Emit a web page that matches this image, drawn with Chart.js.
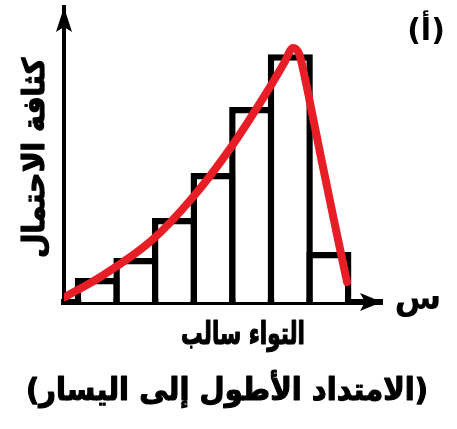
<!DOCTYPE html>
<html>
<head>
<meta charset="utf-8">
<script src="https://cdn.jsdelivr.net/npm/chart.js@4"></script>
<style>
  html, body { margin: 0; padding: 0; background: #fff; }
  #wrap { width: 457px; height: 429px; }
</style>
</head>
<body>
<div id="wrap"><canvas id="skewChart" width="457" height="429"></canvas></div>
<script>
// histogram bins (centres) and heights
const binCenters = [0.5, 1.5, 2.5, 3.5, 4.5, 5.5, 6.5];
const binHeights = [2.44, 4.48, 8.55, 13.12, 19.83, 25.2, 5.09];

// density curve
const curveX = [-0.34, 0.57, 1.92, 2.98, 3.94, 4.9, 5.34, 5.57, 5.73, 5.88, 6.09, 6.32, 6.63, 6.97];
const curveY = [0.5, 2.54, 6.31, 10.68, 15.6, 21.4, 24.3, 25.83, 25.22, 22.78, 18.71, 14.24, 8.34, 2.03];

// texts
const yTitle = "كثافة الاحتمال";
const xSymbol = "س";
const captionLines = ["التواء سالب", "(الامتداد الأطول إلى اليسار)"];
const panelLabel = "(أ)";

const chartEl = document.getElementById("skewChart");

// draws heavy text squeezed/stretched to a given width
const fitText = (ctx, text, cx, cy, w) => {
  const m = ctx.measureText(text).width;
  ctx.save();
  ctx.translate(cx, cy);
  ctx.scale(w / m, 1);
  ctx.fillText(text, 0, 0);
  ctx.strokeText(text, 0, 0);
  ctx.restore();
};

// arrows + texts
const decorPlugin = {
  id: "decor",
  afterDraw(chart) {
    const { ctx, chartArea } = chart;
    const { left, right, top, bottom } = chartArea;
    ctx.save();
    ctx.fillStyle = "#000";
    ctx.strokeStyle = "#000";
    ctx.lineWidth = 1.2;
    ctx.lineJoin = "round";
    // y arrow
    ctx.beginPath();
    ctx.moveTo(left, top);
    ctx.lineTo(left - 8, top + 25);
    ctx.lineTo(left, top + 20);
    ctx.lineTo(left + 8, top + 25);
    ctx.closePath();
    ctx.fill();
    // x arrow
    ctx.beginPath();
    ctx.moveTo(right, bottom);
    ctx.lineTo(right - 22, bottom - 9);
    ctx.lineTo(right - 17, bottom);
    ctx.lineTo(right - 22, bottom + 9);
    ctx.closePath();
    ctx.fill();

    ctx.direction = "rtl";
    ctx.textAlign = "center";
    ctx.textBaseline = "middle";

    ctx.font = "bold 30px 'DejaVu Sans'";
    ctx.save();
    ctx.translate(36, 158);
    ctx.rotate(-Math.PI / 2);
    fitText(ctx, yTitle, 0, 0, 200);
    ctx.restore();

    ctx.font = "bold 34px 'DejaVu Sans'";
    ctx.fillText(xSymbol, 418, 300);

    ctx.font = "bold 31px 'DejaVu Sans'";
    fitText(ctx, captionLines[0], 243, 336, 124);
    fitText(ctx, captionLines[1], 227, 392, 402);

    ctx.font = "bold 30px 'DejaVu Sans'";
    ctx.fillText(panelLabel, 426, 32);
    ctx.restore();
  }
};

const hiddenAxis = (min, max, width) => ({
  type: "linear",
  min: min,
  max: max,
  offset: false,
  ticks: { display: false },
  grid: { display: false, drawTicks: false, offset: false },
  border: { display: true, color: "#000", width: width }
});

new Chart(chartEl, {
  data: {
    datasets: [
      {
        type: "line",
        label: "density",
        data: curveX.map((x, i) => ({ x: x, y: curveY[i] })),
        borderColor: "rgb(232, 30, 38)",
        borderWidth: 8,
        borderCapStyle: "round",
        borderJoinStyle: "round",
        pointRadius: 0,
        cubicInterpolationMode: "monotone",
        fill: false
      },
      {
        type: "bar",
        label: "histogram",
        data: binCenters.map((x, i) => ({ x: x, y: binHeights[i] })),
        backgroundColor: "#fff",
        borderColor: "#000",
        borderWidth: 6.5,
        borderSkipped: "bottom",
        barPercentage: 1.168,
        categoryPercentage: 1
      }
    ]
  },
  options: {
    responsive: false,
    animation: false,
    layout: { padding: { left: 64, right: 75, top: 7, bottom: 127 } },
    plugins: { legend: { display: false }, tooltip: { enabled: false } },
    scales: {
      x: hiddenAxis(-0.363, 7.876, 6),
      y: hiddenAxis(0, 30, 4)
    }
  },
  plugins: [decorPlugin]
});
</script>
</body>
</html>
